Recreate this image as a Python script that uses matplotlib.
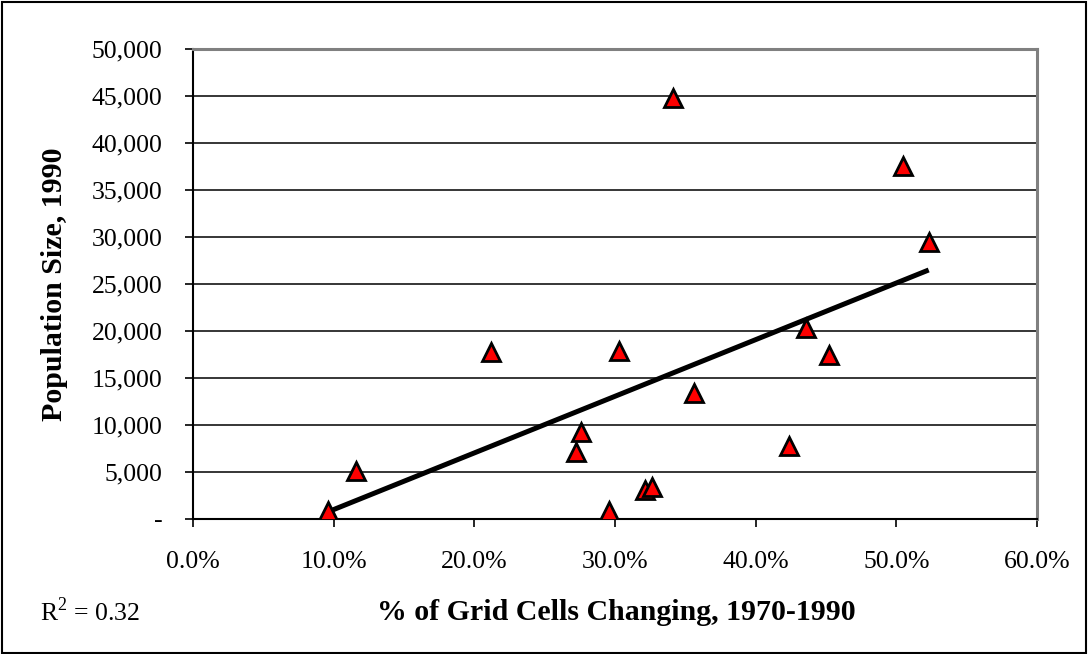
import numpy as np
import matplotlib
matplotlib.use("Agg")
import matplotlib.pyplot as plt
from matplotlib.ticker import FuncFormatter
from matplotlib.patches import Rectangle

plt.rcParams["font.family"] = ["Liberation Serif", "DejaVu Serif"]
plt.rcParams["mathtext.fontset"] = "custom"
plt.rcParams["mathtext.rm"] = "Liberation Serif"

# % of grid cells changing 1970-1990 (fraction) and population size 1990
pct_change = [0.096, 0.116, 0.212, 0.272, 0.276, 0.296, 0.303, 0.321,
              0.326, 0.341, 0.356, 0.424, 0.436, 0.452, 0.505, 0.523]
population = [850, 5100, 17800, 7150, 9300, 850, 17900, 3100,
              3400, 44800, 13400, 7800, 20300, 17450, 37600, 29500]
r2_text = r"R$^\mathrm{2}$ = 0.32"

x = np.array(pct_change)
y = np.array(population)

fig = plt.figure(figsize=(10.88, 6.54), dpi=100)
ax = fig.add_axes([193 / 1088, 1 - 519 / 654, (1037 - 193) / 1088, (519 - 49) / 654])

# horizontal gridlines
ax.set_axisbelow(True)
ax.yaxis.grid(True, color="black", linewidth=1.1)

# linear trendline
slope, icpt = np.polyfit(x, y, 1)
xs = np.array([x.min(), x.max()])
ax.plot(xs, slope * xs + icpt, color="black", linewidth=3.6, solid_capstyle="butt", zorder=3)

ax.plot(x, y, linestyle="none", marker="^", markersize=12.5,
        markerfacecolor="#ff0000", markeredgecolor="black", markeredgewidth=2.0, zorder=4)

ax.set_xlim(0, 0.6)
ax.set_ylim(0, 50000)
ax.set_xticks(np.arange(0, 0.61, 0.1))
ax.set_yticks(np.arange(0, 50001, 5000))
ax.xaxis.set_major_formatter(FuncFormatter(lambda v, p: f"{v * 100:.1f}%"))
ax.yaxis.set_major_formatter(FuncFormatter(lambda v, p: "-" if v == 0 else f"{v:,.0f}"))
ax.tick_params(axis="both", direction="out", length=6, width=1.2, labelsize=18.5, colors="black")
ax.tick_params(axis="x", pad=17)
ax.tick_params(axis="y", pad=16)

for s in ["left", "bottom"]:
    ax.spines[s].set_color("black")
    ax.spines[s].set_linewidth(1.5)
for s in ["top", "right"]:
    ax.spines[s].set_color("#808080")
    ax.spines[s].set_linewidth(2.2)

fig.text(616 / 1088, 1 - 612 / 654, "% of Grid Cells Changing, 1970-1990",
         ha="center", va="center", fontsize=21.5, fontweight="bold")
fig.text(54 / 1088, 1 - 284 / 654, "Population Size, 1990", rotation=90,
         ha="center", va="center", fontsize=21.5, fontweight="bold")
fig.text(40 / 1088, 1 - 612 / 654, r2_text, ha="left", va="center", fontsize=18.5)

# chart area border
fig.patches.append(Rectangle((0.002, 0.002), 0.996, 0.995, transform=fig.transFigure,
                             fill=False, edgecolor="black", linewidth=1.5))

fig.savefig("out.png", dpi=100)
